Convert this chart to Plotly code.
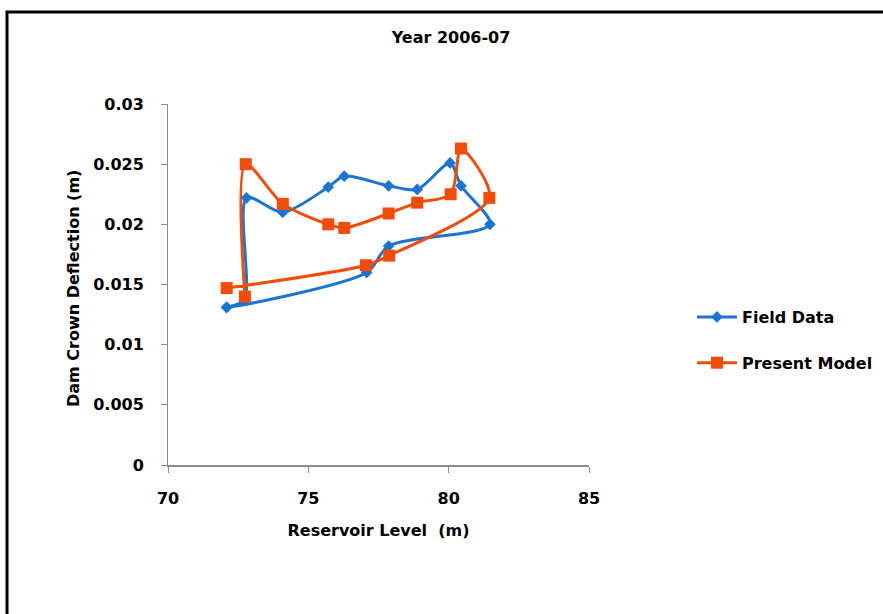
import plotly.graph_objects as go

# Field data (in drawing order)
field_level = [72.09, 72.72, 72.80, 74.09, 75.71, 76.28, 77.86, 78.88, 80.05, 80.44, 81.47, 77.86, 77.08, 72.09]
field_defl = [0.0131, 0.0137, 0.0222, 0.0210, 0.0231, 0.0240, 0.0232, 0.0229, 0.0251, 0.0232, 0.0200, 0.0182, 0.0160, 0.0131]

# Present model (in drawing order)
model_level = [72.74, 72.77, 74.09, 75.71, 76.28, 77.86, 78.88, 80.07, 80.44, 81.45, 77.88, 77.05, 72.09]
model_defl = [0.0140, 0.0250, 0.0217, 0.0200, 0.0197, 0.0209, 0.0218, 0.0225, 0.0263, 0.0222, 0.0174, 0.0166, 0.0147]

x_ticks = [70, 75, 80, 85]
y_ticks = [0, 0.005, 0.01, 0.015, 0.02, 0.025, 0.03]
y_labels = ["0", "0.005", "0.01", "0.015", "0.02", "0.025", "0.03"]

BLUE = "#1B74D2"
ORANGE = "#F24C0A"
FONT = "DejaVu Sans"

L, R, T, B = 168, 589, 104, 465
W, H = 883, 614

fig = go.Figure()
fig.add_trace(go.Scatter(
    x=field_level, y=field_defl, name="<b>Field Data</b>", mode="lines+markers",
    line=dict(color=BLUE, width=3, shape="spline", smoothing=0.8),
    marker=dict(symbol="diamond", size=9, color=BLUE),
    legendgroup="a",
))
fig.add_trace(go.Scatter(
    x=model_level, y=model_defl, name="<b>Present Model</b>", mode="lines+markers",
    line=dict(color=ORANGE, width=3, shape="spline", smoothing=0.8),
    marker=dict(symbol="square", size=12, color=ORANGE),
    legendgroup="b",
))

fig.update_layout(
    width=W, height=H,
    margin=dict(l=L, r=W - R, t=T, b=H - B, autoexpand=False),
    paper_bgcolor="white", plot_bgcolor="white",
    font=dict(family=FONT, color="black", size=15),
    title=dict(text="<b>Year 2006-07</b>", x=451 / W, xanchor="center",
               y=1 - 37 / H, yanchor="middle", font=dict(size=16, family=FONT)),
    showlegend=True,
    legend=dict(x=(692 - L) / (R - L), y=(B - 340) / (B - T), xanchor="left", yanchor="middle",
                font=dict(size=16, family=FONT, color="black"),
                tracegroupgap=22, itemwidth=40, bgcolor="rgba(0,0,0,0)"),
    xaxis=dict(
        range=[70, 85], tickvals=x_ticks, ticktext=[f"<b>{t}</b>" for t in x_ticks],
        showgrid=False, zeroline=False, showline=True, linecolor="#8c8c8c", linewidth=2,
        ticks="outside", ticklen=6, tickcolor="#8c8c8c", tickwidth=1,
        tickfont=dict(size=16, family=FONT), ticklabelstandoff=12, automargin=False,
        title=dict(text="<b>Reservoir Level  (m)</b>", font=dict(size=16, family=FONT), standoff=18),
    ),
    yaxis=dict(
        range=[0, 0.03], tickvals=y_ticks, ticktext=[f"<b>{t}</b>" for t in y_labels],
        showgrid=False, zeroline=False, showline=True, linecolor="#8c8c8c", linewidth=1,
        ticks="outside", ticklen=6, tickcolor="#8c8c8c", tickwidth=1,
        tickfont=dict(size=16, family=FONT), ticklabelstandoff=14, automargin=False,
    ),
    annotations=[dict(text="<b>Dam Crown Deflection (m)</b>", textangle=-90,
                      xref="paper", yref="paper", x=(73 - L) / (R - L), y=(B - 289) / (B - T),
                      xanchor="center", yanchor="middle", showarrow=False,
                      font=dict(size=16, family=FONT, color="black"))],
    shapes=[dict(type="rect", xref="paper", yref="paper",
                 x0=(7 - L) / (R - L), x1=(900 - L) / (R - L),
                 y0=(B - 640) / (B - T), y1=(B - 12) / (B - T),
                 line=dict(color="black", width=3), layer="below")],
)

fig.write_html("out.html", config={"displayModeBar": False},
               post_script="document.body.style.margin='0';document.body.style.overflow='hidden';")
